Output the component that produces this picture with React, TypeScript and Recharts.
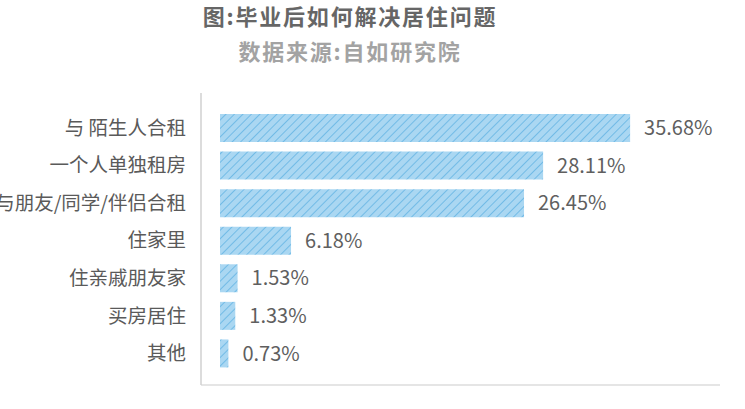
import React from "react";
import { BarChart, Bar, XAxis, YAxis, LabelList } from "recharts";

const categories = [
  "与 陌生人合租",
  "一个人单独租房",
  "与朋友/同学/伴侣合租",
  "住家里",
  "住亲戚朋友家",
  "买房居住",
  "其他",
];
const values = [35.68, 28.11, 26.45, 6.18, 1.53, 1.33, 0.73];
const valueLabels = ["35.68%", "28.11%", "26.45%", "6.18%", "1.53%", "1.33%", "0.73%"];

const data = categories.map((name, i) => ({ name, value: values[i], label: valueLabels[i] }));

const FONT = '"Noto Sans CJK SC", "Noto Sans", sans-serif';

export default function App() {
  return (
    <div style={{ position: "absolute", left: 0, top: 0, width: 745, height: 409, background: "#fff", fontFamily: FONT }}>
      <svg width={0} height={0} style={{ position: "absolute" }}>
        <defs>
          <pattern id="stripes" patternUnits="userSpaceOnUse" width={6} height={6} patternTransform="rotate(45)">
            <rect x={0} y={0} width={6} height={6} fill="#aad7f2" />
            <line x1={0} y1={0} x2={0} y2={6} stroke="#5fb2e3" strokeWidth={1.5} />
          </pattern>
        </defs>
      </svg>
      <div style={{ position: "absolute", left: 0, width: 700, top: 0, textAlign: "center", fontSize: 22, fontWeight: 700, color: "#666", letterSpacing: 1.8, lineHeight: "30px" }}>
        图:毕业后如何解决居住问题
      </div>
      <div style={{ position: "absolute", left: 0, width: 700, top: 35, textAlign: "center", fontSize: 22, fontWeight: 700, color: "#a3a3a3", letterSpacing: 1.8, lineHeight: "30px" }}>
        数据来源:自如研究院
      </div>
      <BarChart
        width={745}
        height={409}
        data={data}
        layout="vertical"
        margin={{ top: 93, right: 25, bottom: 23, left: 0 }}
        barSize={28}
      >
        <XAxis
          type="number"
          domain={[0, 43.5]}
          height={1}
          tick={false}
          tickLine={false}
          axisLine={{ stroke: "#dddddd", strokeWidth: 1.5 }}
          padding={{ left: 19, right: 0 }}
        />
        <YAxis
          type="category"
          dataKey="name"
          width={201}
          tickLine={false}
          tickMargin={9}
          axisLine={{ stroke: "#d0d0d0", strokeWidth: 1.5 }}
          tick={{ fontSize: 19.5, fill: "#5a5a5a", fontFamily: FONT }}
          padding={{ top: 16, bottom: 13 }}
          interval={0}
        />
        <Bar dataKey="value" fill="url(#stripes)" isAnimationActive={false}>
          <LabelList dataKey="label" position="right" offset={14} style={{ fontSize: 20, fill: "#5f5f5f", fontFamily: FONT }} />
        </Bar>
      </BarChart>
    </div>
  );
}
